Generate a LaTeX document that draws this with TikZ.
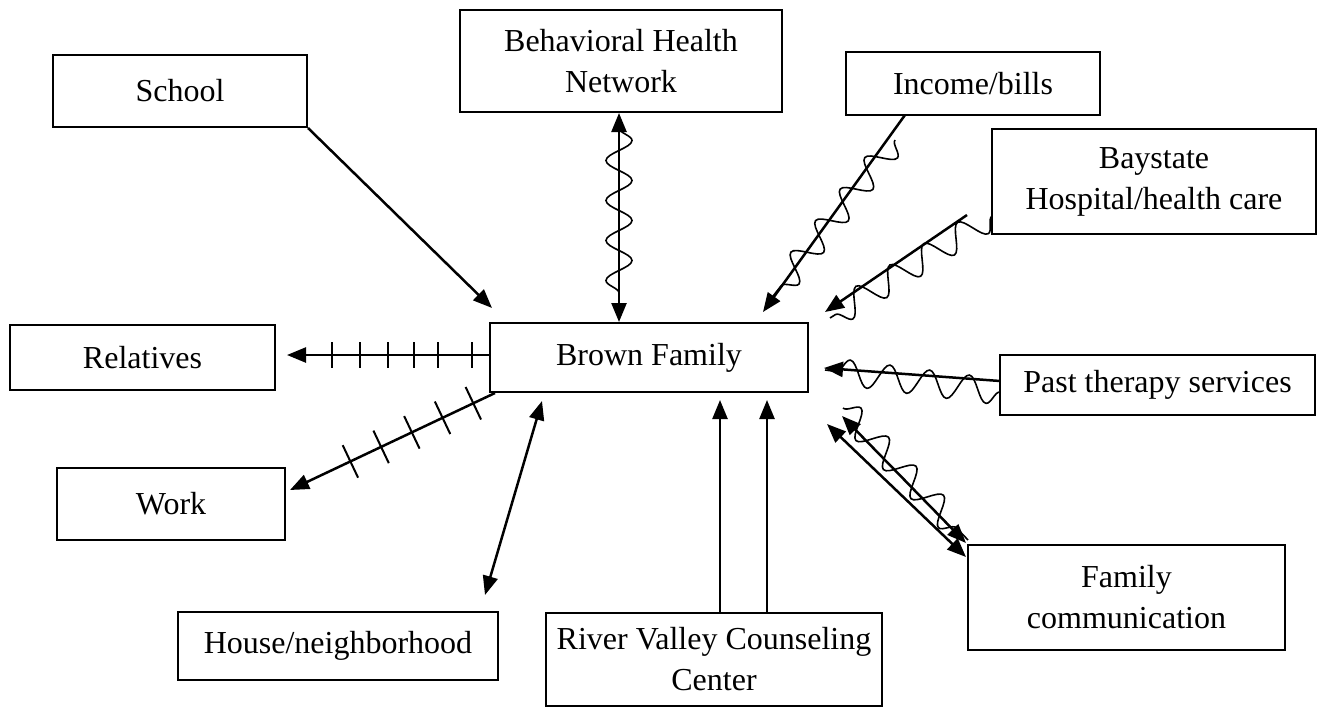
\documentclass[tikz,border=0pt]{standalone}
\usepackage{fontspec}
\setmainfont{Liberation Serif}
\usetikzlibrary{arrows.meta,decorations.pathmorphing,decorations.markings}
\begin{document}
\begin{tikzpicture}[x=1pt,y=-1pt,
  box/.style={draw,line width=2pt,align=center,font=\fontsize{32}{41}\selectfont,inner sep=0pt},
  conn/.style={line width=2.5pt},
  tip/.style={-{Triangle[length=19pt,width=15pt]}},
  dtip/.style={{Triangle[length=19pt,width=15pt]}-{Triangle[length=19pt,width=15pt]}},
  wave/.style={line width=1.6pt,decorate,decoration={snake,amplitude=13pt,segment length=40pt}},
  tick/.style={line width=2pt,arrows=-},
]
\useasboundingbox (0,0) rectangle (1323,707);

% boxes
\node[box,minimum width=254pt,minimum height=72pt] (school) at (180,91) {School};
\node[box,minimum width=322pt,minimum height=102pt] (behav) at (621,61) {Behavioral Health\\Network};
\node[box,minimum width=254pt,minimum height=63pt] (income) at (973,83.5) {Income/bills};
\node[box,minimum width=324pt,minimum height=105pt] (bay) at (1154,181.5) {Baystate\\Hospital/health care};
\node[box,minimum width=315pt,minimum height=60pt] (past) at (1157.5,385) {Past therapy services};
\node[box,minimum width=265pt,minimum height=65pt] (rel) at (142.5,357.5) {Relatives};
\node[box,minimum width=318pt,minimum height=69pt] (brown) at (649,357.5) {Brown Family};
\node[box,minimum width=228pt,minimum height=72pt] (work) at (171,504) {Work};
\node[box,minimum width=317pt,minimum height=105pt] (fam) at (1126.5,597.5) {Family\\communication};
\node[box,minimum width=320pt,minimum height=68pt] (house) at (338,646) {House/neighborhood};
\node[box,minimum width=336pt,minimum height=93pt] (river) at (714,659.5) {River Valley Counseling\\Center};

% connector end points
\coordinate (sch) at (492,308);
\coordinate (bh1) at (619,113);
\coordinate (bh2) at (619,322);
\coordinate (in1) at (905,115);
\coordinate (in2) at (763,312);
\coordinate (by1) at (967,215);
\coordinate (by2) at (825,312);
\coordinate (pa1) at (1000,381);
\coordinate (pa2) at (824,368);
\coordinate (fa1) at (827,424);
\coordinate (fa2) at (966,557);
\coordinate (fb1) at (842,416);
\coordinate (fb2) at (966,543);
\coordinate (re1) at (490,355);
\coordinate (re2) at (287,355);
\coordinate (wo1) at (495,393);
\coordinate (wo2) at (290,490);
\coordinate (ho1) at (542,401);
\coordinate (ho2) at (485,595);
\coordinate (rv1) at (720,613);
\coordinate (rv2) at (720,400);
\coordinate (rw1) at (767,613);
\coordinate (rw2) at (767,400);

% wavy overlays
\draw[wave] (619,128) -- (619,312);
\draw[wave] (895,140) -- (770,300);
\draw[wave] (992,216) -- (830,318);
\draw[wave] (1000,392) -- (825,370);
\draw[wave] (843,408) -- (968,540);

% connectors
\draw[conn,tip] (school.south east) -- (sch);
\draw[conn,dtip] (bh1) -- (bh2);
\draw[conn,tip] (in1) -- (in2);
\draw[conn,tip] (by1) -- (by2);
\draw[conn,tip] (pa1) -- (pa2);
\draw[conn,dtip] (fa1) -- (fa2);
\draw[conn,dtip] (fb1) -- (fb2);
\draw[conn,tip,postaction={decorate,decoration={markings,
  mark=at position 18pt with {\draw[tick] (0pt,-13pt)--(0pt,13pt);},
  mark=at position 52pt with {\draw[tick] (0pt,-13pt)--(0pt,13pt);},
  mark=at position 76pt with {\draw[tick] (0pt,-13pt)--(0pt,13pt);},
  mark=at position 102pt with {\draw[tick] (0pt,-13pt)--(0pt,13pt);},
  mark=at position 130pt with {\draw[tick] (0pt,-13pt)--(0pt,13pt);},
  mark=at position 158pt with {\draw[tick] (0pt,-13pt)--(0pt,13pt);}}}] (re1) -- (re2);
\draw[conn,tip,postaction={decorate,decoration={markings,
  mark=at position 24pt with {\draw[tick] (0pt,-18pt)--(0pt,18pt);},
  mark=at position 58pt with {\draw[tick] (0pt,-18pt)--(0pt,18pt);},
  mark=at position 92pt with {\draw[tick] (0pt,-18pt)--(0pt,18pt);},
  mark=at position 126pt with {\draw[tick] (0pt,-18pt)--(0pt,18pt);},
  mark=at position 160pt with {\draw[tick] (0pt,-18pt)--(0pt,18pt);}}}] (wo1) -- (wo2);
\draw[conn,dtip] (ho1) -- (ho2);
\draw[conn,tip] (rv1) -- (rv2);
\draw[conn,tip] (rw1) -- (rw2);
\end{tikzpicture}
\end{document}
